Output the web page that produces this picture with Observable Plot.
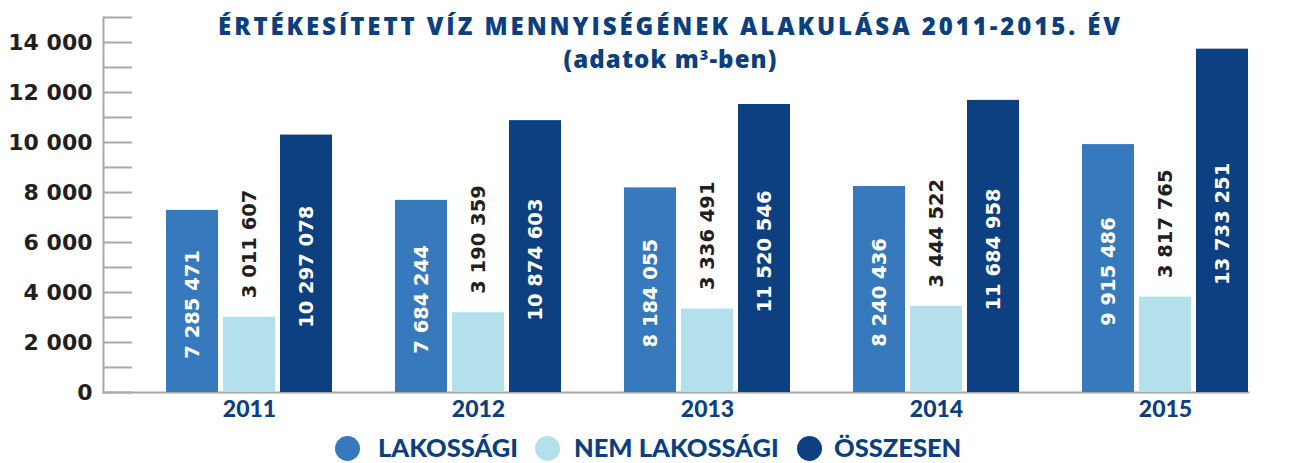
<!DOCTYPE html>
<html>
<head>
<meta charset="utf-8">
<script src="https://cdn.jsdelivr.net/npm/d3@7"></script>
<script src="https://cdn.jsdelivr.net/npm/@observablehq/plot@0.6"></script>
<style>
  html, body { margin: 0; padding: 0; background: #fff; }
  #wrap { position: relative; width: 1308px; height: 463px; overflow: hidden; }
  #chart { position: absolute; left: 0; top: 0; }
  .hdr { position: absolute; left: 0; width: 1341px; text-align: center; color: #0c3f7f;
         font-family: "Open Sans", sans-serif; font-weight: 800; line-height: 1; white-space: nowrap; }
  #title { top: 14px; font-size: 24px; }
  #subtitle { top: 47px; font-size: 24px; }
  #subtitle sup { font-size: 0.6em; vertical-align: 0.55em; line-height: 0; }
  .leg { position: absolute; top: 434px; height: 26px; line-height: 26px;
         font-family: Lato, sans-serif; font-weight: 900; font-size: 25.5px; color: #0c3f7f; white-space: nowrap; }
  .sw { position: absolute; top: 436px; width: 25px; height: 25px; border-radius: 50%; }
</style>
</head>
<body>
<div id="wrap">
  <div id="chart"></div>
  <div id="title" class="hdr"><span>ÉRTÉKESÍTETT VÍZ MENNYISÉGÉNEK ALAKULÁSA 2011-2015. ÉV</span></div>
  <div id="subtitle" class="hdr"><span>(adatok m<sup>3</sup>-ben)</span></div>
  <div id="legend"></div>
</div>
<script>
const years = [2011, 2012, 2013, 2014, 2015];
const series = ["LAKOSSÁGI", "NEM LAKOSSÁGI", "ÖSSZESEN"];
const colors = ["#3779bd", "#b3e0ea", "#0c4080"];
const lakossagi = [7285471, 7684244, 8184055, 8240436, 9915486];
const nemLakossagi = [3011607, 3190359, 3336491, 3444522, 3817765];
const osszesen = [10297078, 10874603, 11520546, 11684958, 13733251];
const yMinorTicks = [0, 1000, 2000, 3000, 4000, 5000, 6000, 7000, 8000, 9000, 10000, 11000, 12000, 13000, 14000, 15000];
const yLabelTicks = [0, 2000, 4000, 6000, 8000, 10000, 12000, 14000];

const navy = "#0c3f7f";
const gray = "#a8a9ac";
const ink = "#231f20";

const fmt = v => d3.format(",")(v).replace(/,/g, " ");

const valuesBySeries = [lakossagi, nemLakossagi, osszesen];
const rows = years.flatMap((year, i) =>
  series.map((s, j) => ({year, series: s, value: valuesBySeries[j][i]}))
);

const chart = Plot.plot({
  width: 1308,
  height: 463,
  marginTop: 17,
  marginBottom: 71,
  marginLeft: 103,
  marginRight: 0,
  style: {fontFamily: "DejaVu Sans", background: "transparent", overflow: "visible"},
  fx: {domain: years, paddingInner: 0, paddingOuter: 0.131, align: 0, axis: null, round: false},
  x: {domain: series, paddingInner: 5 / 57, paddingOuter: 0.5526, align: 1, axis: null, round: false},
  y: {domain: [0, 15000]},
  color: {domain: series, range: colors},
  marks: [
    Plot.frame({anchor: "bottom", facet: "super", stroke: gray, strokeWidth: 2}),
    Plot.frame({anchor: "left", facet: "super", stroke: gray, strokeWidth: 2}),
    Plot.axisY({ticks: yMinorTicks, tickSize: -29, tickFormat: () => "", stroke: gray, strokeWidth: 2, label: null}),
    Plot.axisY({ticks: yLabelTicks, tickSize: 0, tickPadding: 11, tickFormat: fmt, label: null,
      fill: ink, fontSize: 22, fontWeight: "bold", fontFamily: "DejaVu Sans"}),
    Plot.barY(rows, {fx: "year", x: "series", y: d => d.value / 1000, fill: "series"}),
    Plot.text(rows.filter(d => d.series !== series[1]), {
      fx: "year", x: "series", y: d => d.value / 2000, text: d => fmt(d.value),
      rotate: -90, fill: "white", fontSize: 19.5, fontWeight: "bold", dy: 3
    }),
    Plot.text(rows.filter(d => d.series === series[1]), {
      fx: "year", x: "series", y: d => d.value / 1000, text: d => fmt(d.value),
      rotate: -90, textAnchor: "start", fill: ink, fontSize: 19.5, fontWeight: "bold", dy: -19
    }),
    Plot.text(years, {
      fx: d => d, x: () => series[1], frameAnchor: "bottom", dy: 24, text: d => String(d),
      fill: navy, fontSize: 23, fontWeight: 900, fontFamily: "Lato"
    })
  ]
});
document.getElementById("chart").appendChild(chart);

// fit header widths to the reference by letter-spacing
function fit(id, target) {
  const span = document.querySelector(`#${id} span`);
  const w = span.getBoundingClientRect().width;
  const n = span.textContent.length;
  span.style.letterSpacing = ((target - w) / n).toFixed(2) + "px";
}
fit("title", 905);
fit("subtitle", 214);

const legend = document.getElementById("legend");
const swatchLeft = [335, 535, 797];
const labelLeft = [378, 574, 834];
series.forEach((s, i) => {
  const sw = document.createElement("div");
  sw.className = "sw";
  sw.style.left = swatchLeft[i] + "px";
  sw.style.background = colors[i];
  const lab = document.createElement("div");
  lab.className = "leg";
  lab.style.left = labelLeft[i] + "px";
  lab.textContent = s;
  legend.appendChild(sw);
  legend.appendChild(lab);
});
</script>
</body>
</html>
